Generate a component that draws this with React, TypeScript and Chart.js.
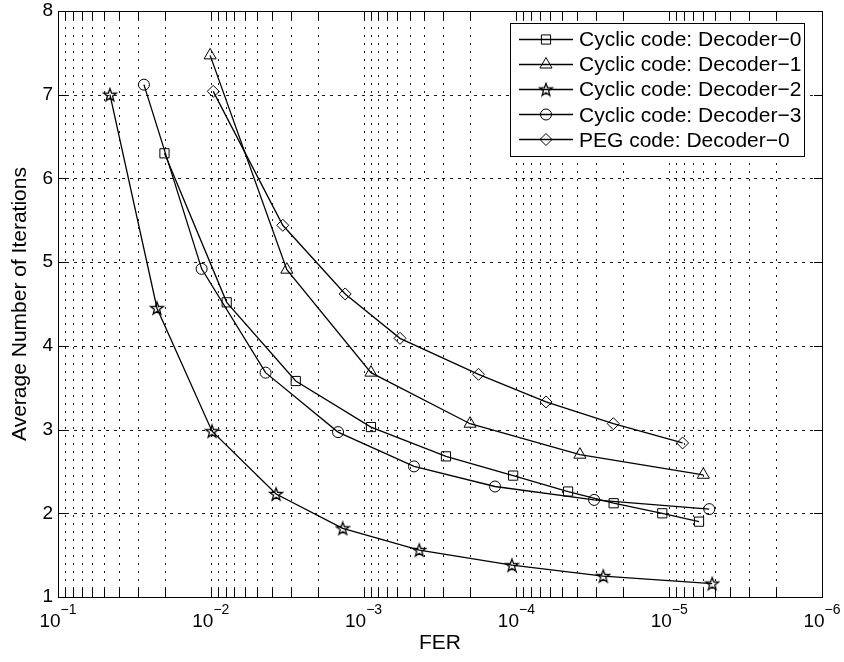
import React, { useEffect, useRef } from 'react';
import { Chart, registerables } from 'chart.js';
import { drawPoint } from 'chart.js/helpers';

Chart.register(...registerables);

const FONT = "'Liberation Sans', Arial, Helvetica, sans-serif";

const seriesLabels = [
  'Cyclic code: Decoder\u22120',
  'Cyclic code: Decoder\u22121',
  'Cyclic code: Decoder\u22122',
  'Cyclic code: Decoder\u22123',
  'PEG code: Decoder\u22120',
];

const ferDec0 = [0.0201, 0.00787, 0.00278, 8.95e-4, 2.89e-4, 1.05e-4, 4.59e-5, 2.31e-5, 1.11e-5, 6.38e-6];
const iterDec0 = [6.3, 4.52, 3.58, 3.03, 2.68, 2.45, 2.26, 2.12, 2.0, 1.9];
const ferDec1 = [0.0101, 0.00318, 8.95e-4, 2.01e-4, 3.84e-5, 5.98e-6];
const iterDec1 = [7.47, 4.91, 3.68, 3.07, 2.7, 2.46];
const ferDec2 = [0.0457, 0.0225, 0.00982, 0.00374, 0.00137, 4.32e-4, 1.07e-4, 2.7e-5, 5.23e-6];
const iterDec2 = [7.0, 4.45, 2.98, 2.23, 1.82, 1.56, 1.38, 1.25, 1.16];
const ferDec3 = [0.0274, 0.01148, 0.00438, 0.00147, 4.68e-4, 1.38e-4, 3.1e-5, 5.47e-6];
const iterDec3 = [7.12, 4.92, 3.68, 2.97, 2.56, 2.32, 2.16, 2.05];
const ferPeg = [0.00964, 0.00338, 0.00132, 5.78e-4, 1.77e-4, 6.4e-5, 2.32e-5, 8.17e-6];
const iterPeg = [7.04, 5.44, 4.62, 4.09, 3.66, 3.33, 3.07, 2.84];

const xDecadeExponents = [-1, -2, -3, -4, -5, -6];
const xMinorMultipliers = [2, 3, 4, 5, 6, 7, 8, 9];
const yTickValues = [1, 2, 3, 4, 5, 6, 7, 8];

function makeStar(): HTMLCanvasElement {
  const c = document.createElement('canvas');
  c.width = 16;
  c.height = 16;
  const g = c.getContext('2d')!;
  const cx = 8, cy = 8.5;
  const R = 6.6, r = 2.7;
  g.beginPath();
  for (let i = 0; i < 10; i++) {
    const rad = i % 2 === 0 ? R : r;
    const a = -Math.PI / 2 + (i * Math.PI) / 5;
    const px = cx + rad * Math.cos(a);
    const py = cy + rad * Math.sin(a);
    if (i === 0) g.moveTo(px, py);
    else g.lineTo(px, py);
  }
  g.closePath();
  g.strokeStyle = '#000';
  g.lineWidth = 1.3;
  g.stroke();
  return c;
}

const matlabPlugin = {
  id: 'matlabDecor',
  beforeDatasetsDraw(chart: any) {
    const { ctx, chartArea, scales } = chart;
    const { left, right, top, bottom } = chartArea;
    const xs = scales.x;
    const ys = scales.y;
    const xVals: { v: number; major: boolean }[] = [];
    xDecadeExponents.forEach((e) => {
      xVals.push({ v: Math.pow(10, e), major: true });
      if (e > -1 || e <= -6) return;
      xMinorMultipliers.forEach((m) => {
        xVals.push({ v: m * Math.pow(10, e - 1), major: false });
      });
    });
    ctx.save();
    ctx.strokeStyle = '#1a1a1a';
    ctx.lineWidth = 1;
    ctx.setLineDash([2, 6]);
    xVals.forEach(({ v }) => {
      const px = Math.round(xs.getPixelForValue(v)) + 0.5;
      if (px <= left + 1 || px >= right - 1) return;
      ctx.beginPath();
      ctx.moveTo(px, bottom);
      ctx.lineTo(px, top);
      ctx.stroke();
    });
    ctx.setLineDash([3, 5]);
    yTickValues.forEach((t) => {
      const py = Math.round(ys.getPixelForValue(t)) + 0.5;
      if (py <= top + 1 || py >= bottom - 1) return;
      ctx.beginPath();
      ctx.moveTo(left, py);
      ctx.lineTo(right, py);
      ctx.stroke();
    });
    ctx.setLineDash([]);
    ctx.strokeStyle = '#000';
    const tl = 8;
    xVals.forEach(({ v }) => {
      const px = Math.round(xs.getPixelForValue(v)) + 0.5;
      ctx.beginPath();
      ctx.moveTo(px, bottom);
      ctx.lineTo(px, bottom - tl);
      ctx.moveTo(px, top);
      ctx.lineTo(px, top + tl);
      ctx.stroke();
    });
    yTickValues.forEach((t) => {
      const py = Math.round(ys.getPixelForValue(t)) + 0.5;
      ctx.beginPath();
      ctx.moveTo(left, py);
      ctx.lineTo(left + tl, py);
      ctx.moveTo(right, py);
      ctx.lineTo(right - tl, py);
      ctx.stroke();
    });
    ctx.restore();
  },
  afterDatasetsDraw(chart: any) {
    const { ctx, chartArea } = chart;
    const { left, right, top, bottom } = chartArea;
    ctx.save();
    ctx.strokeStyle = '#000';
    ctx.lineWidth = 1;
    ctx.strokeRect(Math.round(left) + 0.5, Math.round(top) + 0.5, Math.round(right - left), Math.round(bottom - top));
    ctx.restore();
  },
  afterDraw(chart: any) {
    const { ctx, scales } = chart;
    const xs = scales.x;
    ctx.save();
    ctx.fillStyle = '#000';
    xDecadeExponents.forEach((e) => {
      const px = xs.getPixelForValue(Math.pow(10, e));
      const base = '10';
      const sup = '\u2212' + String(-e);
      ctx.font = `19px ${FONT}`;
      const wb = ctx.measureText(base).width;
      ctx.font = `14px ${FONT}`;
      const ws = ctx.measureText(sup).width;
      const x0 = px - (wb + ws) / 2;
      ctx.textAlign = 'left';
      ctx.textBaseline = 'alphabetic';
      ctx.font = `19px ${FONT}`;
      ctx.fillText(base, x0, 627);
      ctx.font = `14px ${FONT}`;
      ctx.fillText(sup, x0 + wb, 614);
    });
    const bx = 510, by = 23, bw = 294, bh = 133;
    ctx.fillStyle = '#fff';
    ctx.fillRect(bx, by, bw, bh);
    ctx.strokeStyle = '#000';
    ctx.lineWidth = 1;
    ctx.strokeRect(bx + 0.5, by + 0.5, bw, bh);
    const baselines = [46, 71.2, 96.4, 121.6, 146.8];
    chart.data.datasets.forEach((ds: any, i: number) => {
      const yb = baselines[i];
      const ym = Math.round(yb - 7.5) + 0.5;
      ctx.strokeStyle = '#000';
      ctx.lineWidth = 1.3;
      ctx.beginPath();
      ctx.moveTo(519, ym);
      ctx.lineTo(573, ym);
      ctx.stroke();
      ctx.lineWidth = 1;
      ctx.fillStyle = 'rgba(0,0,0,0)';
      drawPoint(ctx, { pointStyle: ds.pointStyle, radius: ds.pointRadius, rotation: 0, borderWidth: 1 } as any, 546, ym);
      ctx.fillStyle = '#000';
      ctx.font = `21px ${FONT}`;
      ctx.textAlign = 'left';
      ctx.textBaseline = 'alphabetic';
      ctx.fillText(ds.label, 579, yb);
    });
    ctx.restore();
  },
};

function toPoints(xs: number[], ys: number[]) {
  return xs.map((x, i) => ({ x, y: ys[i] }));
}

export default function App() {
  const ref = useRef<HTMLCanvasElement>(null);
  useEffect(() => {
    const canvas = ref.current;
    if (!canvas) return;
    const star = makeStar();
    const common = {
      borderColor: '#000',
      borderWidth: 1.3,
      pointBorderColor: '#000',
      pointBackgroundColor: 'rgba(0,0,0,0)',
      pointBorderWidth: 1,
      fill: false,
      tension: 0,
    };
    const chart = new Chart(canvas, {
      type: 'line',
      data: {
        datasets: [
          { ...common, label: seriesLabels[0], data: toPoints(ferDec0, iterDec0), pointStyle: 'rect', pointRadius: 6.5 },
          { ...common, label: seriesLabels[1], data: toPoints(ferDec1, iterDec1), pointStyle: 'triangle', pointRadius: 7 },
          { ...common, label: seriesLabels[2], data: toPoints(ferDec2, iterDec2), pointStyle: star, pointRadius: 7 },
          { ...common, label: seriesLabels[3], data: toPoints(ferDec3, iterDec3), pointStyle: 'circle', pointRadius: 5.5 },
          { ...common, label: seriesLabels[4], data: toPoints(ferPeg, iterPeg), pointStyle: 'rectRot', pointRadius: 6 },
        ] as any,
      },
      options: {
        responsive: false,
        animation: false,
        layout: { padding: { left: 0, top: 11, right: 22, bottom: 0 } },
        plugins: { legend: { display: false }, tooltip: { enabled: false } },
        scales: {
          x: {
            type: 'logarithmic',
            min: 1e-6,
            max: 1e-1,
            reverse: true,
            grid: { display: false, drawTicks: false },
            border: { display: false },
            ticks: { display: false },
            title: {
              display: true,
              text: 'FER',
              color: '#000',
              font: { family: FONT, size: 21 },
              padding: { top: 0, bottom: 6 },
            },
            afterFit: (s: any) => {
              s.height = 65;
              s.paddingLeft = 0;
              s.paddingRight = 0;
            },
          },
          y: {
            type: 'linear',
            min: 1,
            max: 8,
            grid: { display: false, drawTicks: false },
            border: { display: false },
            ticks: {
              stepSize: 1,
              padding: 5,
              color: '#000',
              font: { family: FONT, size: 19 },
            },
            title: {
              display: true,
              text: 'Average Number of Iterations',
              color: '#000',
              font: { family: FONT, size: 21 },
              padding: { top: 8, bottom: 0 },
            },
            afterFit: (s: any) => {
              s.width = 58;
              s.paddingTop = 0;
              s.paddingBottom = 0;
            },
          },
        },
      } as any,
      plugins: [matlabPlugin as any],
    });
    return () => chart.destroy();
  }, []);
  return (
    <div style={{ position: 'fixed', left: 0, top: 0, width: 844, height: 662, background: '#fff' }}>
      <canvas ref={ref} width={844} height={662} style={{ display: 'block' }} />
    </div>
  );
}
